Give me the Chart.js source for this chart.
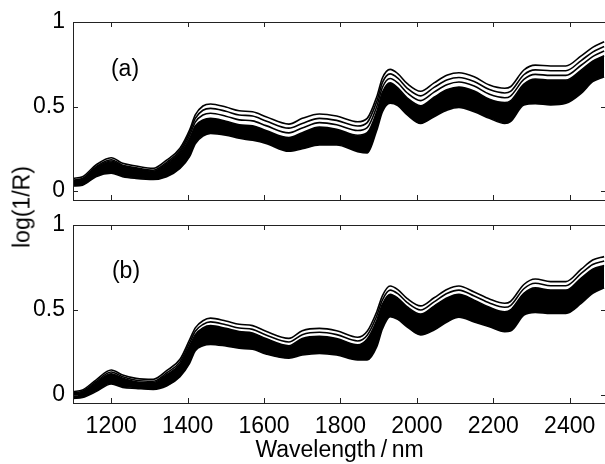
<!DOCTYPE html>
<html>
<head>
<meta charset="utf-8">
<script src="https://cdn.jsdelivr.net/npm/chart.js@4"></script>
<style>
  html, body { margin:0; padding:0; background:#fff; overflow:hidden; width:605px; height:464px; }
  .panel { position:absolute; left:0; width:612px; }
  #pa { top:0; height:212px; }
  #pb { top:212px; height:252px; }
  .txt { position:absolute; font-family:'Liberation Sans', Arial, sans-serif; font-size:23px; color:#000; white-space:nowrap; }
  #ylab { left:22px; top:207px; transform:translate(-50%,-50%) rotate(-90deg); }
  #la { left:125px; top:68px; transform:translate(-50%,-50%); }
  #lb { left:126px; top:270px; transform:translate(-50%,-50%); }
</style>
</head>
<body>
<div class="panel" id="pa"><canvas id="ca"></canvas></div>
<div class="panel" id="pb"><canvas id="cb"></canvas></div>
<div class="txt" id="ylab">log(1/R)</div>
<div class="txt" id="la">(a)</div>
<div class="txt" id="lb">(b)</div>
<script>
// ---- data ----
const wavelengths = [1100,1125,1160,1200,1230,1265,1310,1345,1380,1405,1420,1440,1460,1500,1535,1570,1605,1665,1700,1745,1790,1845,1870,1895,1910,1930,1950,1975,2010,2045,2080,2110,2150,2190,2230,2245,2280,2310,2350,2390,2430,2460,2490];

const aTop      = [0.075,0.085,0.154,0.197,0.164,0.148,0.134,0.183,0.253,0.36,0.45,0.503,0.515,0.497,0.475,0.469,0.44,0.396,0.43,0.456,0.444,0.41,0.43,0.558,0.67,0.72,0.695,0.635,0.59,0.64,0.686,0.70,0.676,0.627,0.608,0.617,0.716,0.745,0.74,0.74,0.80,0.85,0.883];
const aL2       = [0.065,0.075,0.143,0.185,0.153,0.137,0.123,0.17,0.24,0.345,0.43,0.478,0.489,0.472,0.45,0.444,0.415,0.372,0.40,0.43,0.418,0.385,0.405,0.53,0.643,0.693,0.668,0.608,0.563,0.613,0.658,0.672,0.648,0.60,0.58,0.589,0.688,0.717,0.712,0.712,0.772,0.822,0.855];
const aL3       = [0.062,0.071,0.137,0.178,0.147,0.131,0.117,0.162,0.23,0.328,0.408,0.45,0.46,0.443,0.421,0.415,0.387,0.344,0.373,0.405,0.392,0.358,0.375,0.50,0.614,0.666,0.64,0.58,0.535,0.585,0.63,0.645,0.621,0.572,0.552,0.562,0.66,0.69,0.684,0.684,0.744,0.795,0.828];
const aBandTop  = [0.06,0.068,0.132,0.172,0.142,0.126,0.112,0.155,0.22,0.31,0.385,0.42,0.43,0.413,0.392,0.386,0.358,0.316,0.345,0.378,0.366,0.33,0.345,0.47,0.585,0.64,0.61,0.55,0.505,0.555,0.6,0.615,0.592,0.543,0.523,0.533,0.632,0.662,0.656,0.656,0.715,0.768,0.80];
const aBot      = [0.03,0.035,0.085,0.105,0.085,0.075,0.069,0.085,0.134,0.203,0.28,0.325,0.341,0.331,0.312,0.30,0.282,0.235,0.25,0.272,0.272,0.233,0.225,0.36,0.47,0.519,0.505,0.45,0.40,0.44,0.48,0.495,0.469,0.43,0.40,0.41,0.509,0.517,0.51,0.519,0.578,0.647,0.676];
const aGap      = [null,null,null,null,null,null,null,null,null,null,null,null,null,null,null,null,null,null,null,null,null,null,null,null,0.485,0.532,0.518,0.463,0.413,0.452,0.492,0.507,0.481,null,null,null,null,null,null,null,null,null,null];

const bTop      = [0.02,0.03,0.088,0.147,0.118,0.098,0.092,0.143,0.21,0.324,0.395,0.437,0.452,0.435,0.416,0.408,0.375,0.333,0.378,0.392,0.378,0.34,0.375,0.49,0.585,0.641,0.62,0.567,0.524,0.572,0.622,0.641,0.606,0.565,0.54,0.55,0.65,0.682,0.667,0.667,0.74,0.794,0.814];
const bL2       = [0.012,0.022,0.078,0.135,0.107,0.087,0.081,0.13,0.195,0.305,0.375,0.415,0.43,0.413,0.394,0.386,0.353,0.312,0.355,0.369,0.355,0.318,0.352,0.465,0.56,0.617,0.596,0.543,0.50,0.548,0.598,0.617,0.582,0.541,0.516,0.526,0.625,0.657,0.643,0.643,0.715,0.768,0.788];
const bBandTop  = [0.006,0.016,0.07,0.125,0.098,0.078,0.072,0.12,0.182,0.288,0.355,0.395,0.408,0.392,0.373,0.365,0.332,0.29,0.333,0.345,0.332,0.296,0.33,0.44,0.535,0.592,0.57,0.518,0.476,0.523,0.572,0.592,0.558,0.516,0.49,0.5,0.598,0.63,0.617,0.617,0.688,0.74,0.762];
const bBot      = [-0.02,-0.014,0.02,0.065,0.045,0.039,0.033,0.053,0.108,0.186,0.26,0.29,0.298,0.288,0.275,0.269,0.241,0.216,0.235,0.245,0.235,0.206,0.206,0.284,0.39,0.461,0.445,0.40,0.353,0.382,0.431,0.457,0.43,0.402,0.373,0.376,0.47,0.486,0.48,0.48,0.539,0.598,0.631];
const bGap      = [null,null,null,null,null,null,null,null,null,null,null,null,null,null,null,null,null,null,null,null,null,null,null,null,0.405,0.474,0.458,0.412,null,null,null,null,null,null,null,null,null,null,null,null,null,null,null];

const xTicks = [1200,1400,1600,1800,2000,2200,2400];
const yTicks = [0,0.5,1];
const xTitle = 'Wavelength\u2009/\u2009nm';

// ---- chart ----
Chart.defaults.font.family = "'Liberation Sans', Arial, sans-serif";
Chart.defaults.font.size = 23;
Chart.defaults.color = '#000';

const pts = arr => wavelengths.map((w, i) => ({ x: w, y: arr[i] }));
const lineDs = (arr, extra) => Object.assign({
  data: pts(arr), borderColor: '#000', borderWidth: 1.6, pointRadius: 0,
  fill: false, cubicInterpolationMode: 'monotone', spanGaps: false
}, extra || {});

const frame = {
  id: 'frame',
  afterDatasetsDraw(chart) {
    const { ctx, chartArea: a, scales } = chart;
    ctx.save();
    ctx.strokeStyle = '#222';
    ctx.lineWidth = 1;
    ctx.strokeRect(Math.round(a.left) + 0.5, Math.round(a.top) + 0.5, Math.round(a.right - a.left), Math.round(a.bottom - a.top));
    const L = 5;
    ctx.beginPath();
    scales.x.ticks.forEach(t => {
      const px = Math.round(scales.x.getPixelForValue(t.value)) + 0.5;
      ctx.moveTo(px, a.bottom); ctx.lineTo(px, a.bottom - L);
      ctx.moveTo(px, a.top); ctx.lineTo(px, a.top + L);
    });
    scales.y.ticks.forEach(t => {
      const py = Math.round(scales.y.getPixelForValue(t.value)) + 0.5;
      ctx.moveTo(a.left, py); ctx.lineTo(a.left + L, py);
      ctx.moveTo(a.right, py); ctx.lineTo(a.right - L, py);
    });
    ctx.stroke();
    ctx.restore();
  }
};

function makeChart(id, sets, yMin, showX, padding, xHeight) {
  return new Chart(document.getElementById(id), {
    type: 'line',
    data: { datasets: sets },
    options: {
      responsive: true, maintainAspectRatio: false, animation: false,
      events: [],
      layout: { padding },
      plugins: { legend: { display: false }, tooltip: { enabled: false } },
      scales: {
        x: {
          type: 'linear', min: 1100, max: 2495, display: showX,
          afterBuildTicks: s => { s.ticks = xTicks.map(v => ({ value: v })); },
          afterFit: s => { if (xHeight) s.height = xHeight; s.paddingLeft = 0; s.paddingRight = 0; },
          grid: { display: false, drawTicks: false },
          border: { display: false },
          ticks: { padding: 10, maxRotation: 0, callback: v => String(v) },
          title: { display: showX, text: xTitle, padding: { top: 0, bottom: 0 }, font: { size: 23 } }
        },
        y: {
          min: yMin, max: 1,
          afterBuildTicks: s => { s.ticks = yTicks.map(v => ({ value: v })); },
          afterFit: s => { s.width = 73; s.paddingTop = 0; s.paddingBottom = 0; },
          grid: { display: false, drawTicks: false },
          border: { display: false },
          ticks: { padding: 8, callback: v => String(v) }
        }
      }
    },
    plugins: [frame]
  });
}

makeChart('ca', [
  lineDs(aBot),
  lineDs(aBandTop, { fill: 0, backgroundColor: '#000' }),
  lineDs(aGap, { borderColor: '#fff', borderWidth: 1 }),
  lineDs(aL3),
  lineDs(aL2),
  lineDs(aTop)
], -0.053, false, { left: 0, top: 22, right: 6, bottom: 12 }, 0);

makeChart('cb', [
  lineDs(bBot),
  lineDs(bBandTop, { fill: 0, backgroundColor: '#000' }),
  lineDs(bGap, { borderColor: '#fff', borderWidth: 1 }),
  lineDs(bL2),
  lineDs(bTop)
], -0.047, true, { left: 0, top: 13, right: 6, bottom: 0 }, 61);
</script>
</body>
</html>
